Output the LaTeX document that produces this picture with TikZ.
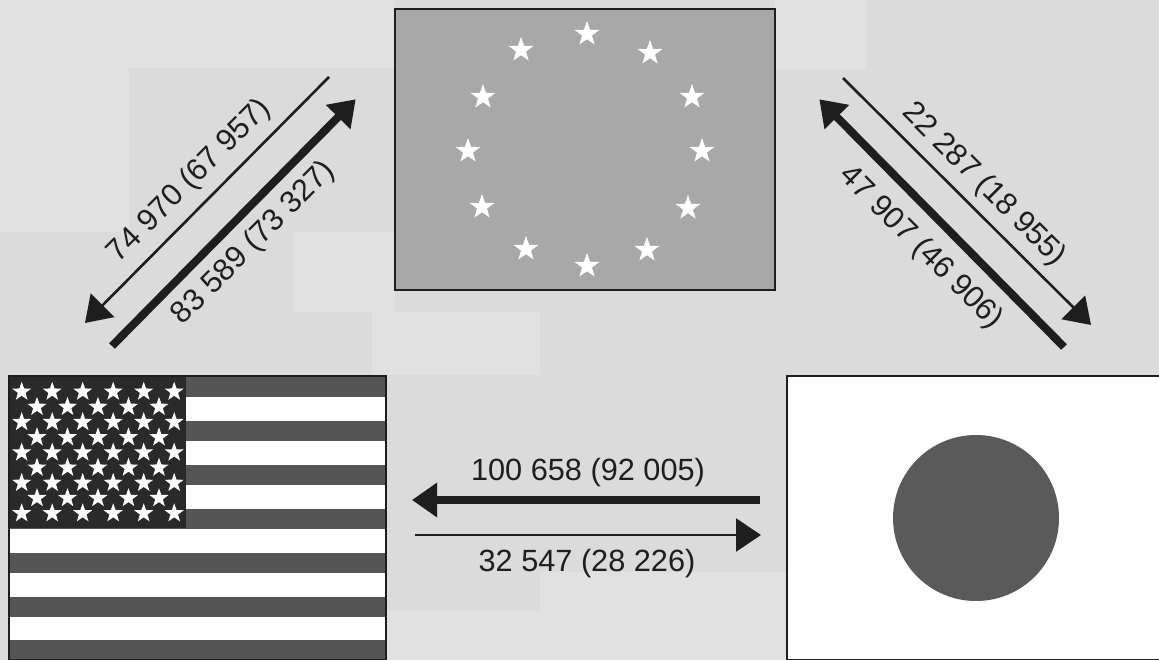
\documentclass[tikz,border=0pt]{standalone}
\usepackage{fontspec}
\setmainfont{Liberation Sans}
\usetikzlibrary{shapes.geometric,arrows.meta}
\definecolor{bgbase}{HTML}{DBDBDB}
\definecolor{bgflat}{HTML}{E1E1E1}
\definecolor{ink}{HTML}{1E1E1E}
\definecolor{stripe}{HTML}{555555}
\definecolor{canton}{HTML}{2A2A2A}
\definecolor{euflag}{HTML}{A8A8A8}
\definecolor{disc}{HTML}{5A5A5A}
\tikzset{
  x=1pt,y=-1pt,
  flagbox/.style={draw=ink,line width=1.4pt,inner sep=0pt,outer sep=0pt,anchor=north west},
  flagstar/.style={star,star points=5,star point ratio=2.5,fill=white,draw=none,inner sep=0pt,outer sep=0pt},
  thinarrow/.style={draw=ink,fill=ink,line width=2.6pt,-{Triangle[length=25pt,width=33pt]}},
  thickarrow/.style={draw=ink,fill=ink,line width=8pt,-{Triangle[length=25pt,width=33pt,sep=0pt]},shorten >=-1pt},
  flowlabel/.style={text=ink,font=\fontsize{30.7}{33}\selectfont,inner sep=0pt},
}
\begin{document}
\begin{tikzpicture}
\useasboundingbox (0,0) rectangle (1159,660);
\clip (0,0) rectangle (1159,660);
\fill[bgbase] (0,0) rectangle (1159,660);
% flat lighter patches of the scanned background
\fill[bgflat] (0,0) rectangle (129,232);
\fill[bgflat] (129,0) rectangle (395,68);
\fill[bgflat] (293,232) rectangle (395,312);
\fill[bgflat] (372,312) rectangle (540,375);
\fill[bgflat] (775,0) rectangle (866,70);
\fill[bgflat] (540,572) rectangle (787,660);
\fill[bgflat] (386,610) rectangle (540,660);
% USA
\node[flagbox,fill=white,minimum width=377pt,minimum height=284pt] (usa) at (9,376) {};
\foreach \yy/\hh in {376/21,421/20,465/20,509/20,553/20,597/20,640/20}
  \fill[stripe] (9,\yy) rectangle (386,\yy+\hh);
\node[flagbox,draw=none,fill=canton,minimum width=177pt,minimum height=152pt] (canton) at (9,376) {};
\foreach \r in {0,2,4,6,8}
  \foreach \c in {0,...,5}
    \node[flagstar,minimum size=20pt] (us\r\c) at (21.7+30.5*\c,391.7+15.2*\r) {};
\foreach \r in {1,3,5,7}
  \foreach \c in {0,...,4}
    \node[flagstar,minimum size=20pt] (us\r\c) at (37+30.5*\c,391.7+15.2*\r) {};
\draw[ink,line width=1.4pt] (9,376) rectangle (386,660);
% EU
\node[flagbox,fill=euflag,minimum width=380pt,minimum height=281pt] (eu) at (395,9) {};
\foreach \i/\px/\py in {1/587/34,2/650/53,3/692/97,4/702/151,5/688/208,6/647/250,7/587/266,8/526/249,9/482/207,10/468/151,11/483/97,12/521/50}
  \node[flagstar,minimum size=26pt] (eu\i) at (\px,\py) {};
% Japan
\node[flagbox,fill=white,minimum width=380pt,minimum height=284pt] (japan) at (787,376) {};
\node[circle,fill=disc,inner sep=0pt,minimum size=166pt] (sun) at (976,518) {};
% connector ends
\coordinate (a1) at (329,77);  \coordinate (a2) at (85,323);
\coordinate (b1) at (112,346); \coordinate (b2) at (355,100);
\coordinate (c1) at (843,78);  \coordinate (c2) at (1091,325);
\coordinate (d1) at (1064,347);\coordinate (d2) at (820,100);
\coordinate (e1) at (760,500); \coordinate (e2) at (413,500);
\coordinate (f1) at (415,535); \coordinate (f2) at (761,535);
\draw[thinarrow] (a1) -- (a2);
\draw[thickarrow] (b1) -- (b2);
\draw[thinarrow] (c1) -- (c2);
\draw[thickarrow] (d1) -- (d2);
\draw[thickarrow] (e1) -- (e2);
\draw[thinarrow] (f1) -- (f2);
% labels
\node[flowlabel,rotate=45] (la) at (190,181) {74 970 (67 957)};
\node[flowlabel,rotate=45] (lb) at (254,243) {83 589 (73 327)};
\node[flowlabel,rotate=-45] (lc) at (984,185) {22 287 (18 955)};
\node[flowlabel,rotate=-45] (ld) at (921,248) {47 907 (46 906)};
\node[flowlabel] (le) at (588,473) {100 658 (92 005)};
\node[flowlabel] (lf) at (587,564) {32 547 (28 226)};
\end{tikzpicture}
\end{document}
